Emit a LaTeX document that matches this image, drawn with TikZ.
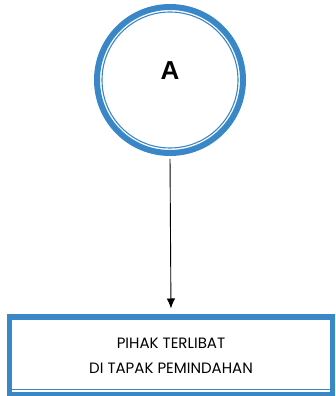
\documentclass[tikz,border=0pt]{standalone}
\usepackage{fontspec}
\setmainfont{Poppins}
\newfontfamily\letterfont{Liberation Sans}
\usetikzlibrary{arrows.meta,calc}
\definecolor{ringblue}{RGB}{58,135,200}
\begin{document}
\begin{tikzpicture}[x=1pt,y=1pt,
  ringnode/.style={circle,draw=ringblue,line width=6pt,minimum size=146pt,inner sep=0pt},
  boxnode/.style={rectangle,draw=ringblue,line width=5pt,minimum width=323pt,minimum height=78pt,inner sep=0pt,align=center,font=\fontsize{15}{25}\selectfont},
  thinline/.style={draw=ringblue,line width=1.1pt},
  link/.style={draw=black,line width=0.9pt,-{Latex[length=10pt,width=8.5pt]}}]
\useasboundingbox (0,0) rectangle (336,396);
\node[ringnode] (a) at (170,316) {};
\draw[thinline] (a.center) circle (68);
\node[font=\letterfont\bfseries\fontsize{26}{26}\selectfont] (la) at (170,325) {A};
\node[boxnode] (b) at (171,40) {PIHAK TERLIBAT\\DI TAPAK PEMINDAHAN};
\draw[thinline] ([shift={(4.5,-5)}]b.north west) rectangle ([shift={(-3.5,8)}]b.south east);
\draw[link,shorten <=3pt,shorten >=6pt] (a.south) -- (b.north);
\end{tikzpicture}
\end{document}
